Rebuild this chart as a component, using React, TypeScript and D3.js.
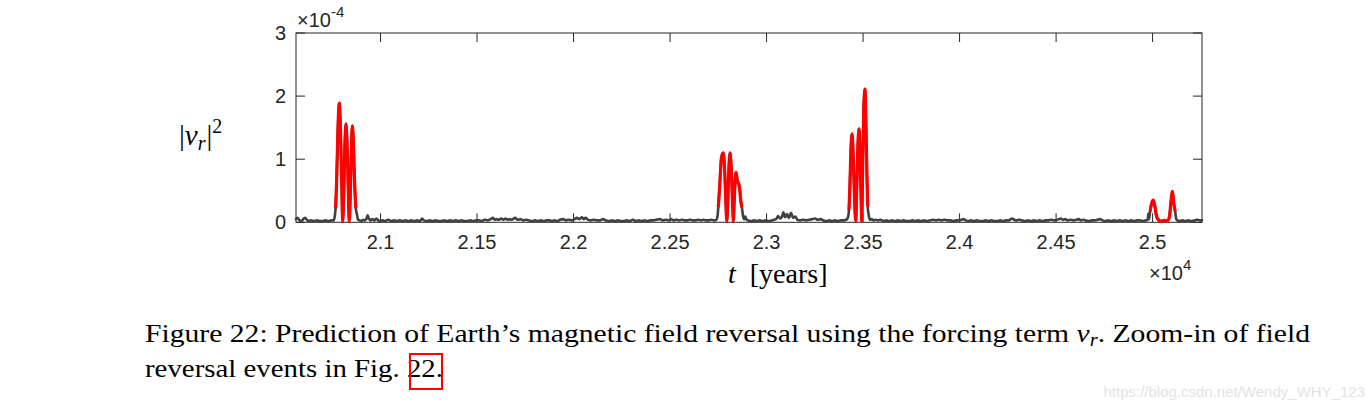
import React from "react";
import * as d3 from "d3";

type Pt = [number, number];

// t in units of 1e4 years, |v_r|^2 in units of 1e-4
const preEvent1: Pt[] = [
  [2.0562, 0.05], [2.057, 0.07], [2.0578, 0.04], [2.0586, 0.02], [2.0594, 0.03], [2.0602, 0.06],
  [2.061, 0.07], [2.0618, 0.04], [2.0626, 0.02], [2.064, 0.03], [2.0655, 0.02], [2.067, 0.03],
  [2.0685, 0.02], [2.07, 0.02], [2.0715, 0.03], [2.073, 0.02], [2.0745, 0.03], [2.0757, 0.03],
  [2.0762, 0.08],
];
const event1: Pt[] = [
  [2.0767, 0.22], [2.0773, 0.7], [2.0779, 1.45], [2.07865, 1.89], [2.0793, 1.4], [2.0799, 0.6],
  [2.0804, 0.02], [2.0809, 0.4], [2.0815, 1.2], [2.0821, 1.56], [2.0827, 1.2], [2.0833, 0.5],
  [2.0838, 0.02], [2.0843, 0.4], [2.0849, 1.15], [2.0854, 1.53], [2.086, 1.2], [2.0866, 0.6],
  [2.0872, 0.22],
];
const gap1: Pt[] = [
  [2.0878, 0.12], [2.0884, 0.04], [2.0892, 0.03], [2.09, 0.02], [2.091, 0.04], [2.0918, 0.03],
  [2.0926, 0.05], [2.0933, 0.11], [2.094, 0.06], [2.0948, 0.03], [2.0958, 0.05], [2.0968, 0.03],
  [2.0978, 0.06], [2.0988, 0.03], [2.0998, 0.02], [2.101, 0.03], [2.1025, 0.02], [2.104, 0.04],
  [2.1055, 0.02], [2.107, 0.03], [2.1085, 0.02], [2.11, 0.03], [2.1115, 0.02], [2.113, 0.03],
  [2.1145, 0.02], [2.116, 0.03], [2.1175, 0.02], [2.119, 0.03], [2.1205, 0.02], [2.1215, 0.06],
  [2.1225, 0.03], [2.124, 0.02], [2.1255, 0.03], [2.127, 0.02], [2.1285, 0.03], [2.13, 0.02],
  [2.1315, 0.02], [2.133, 0.03], [2.1345, 0.02], [2.136, 0.03], [2.1375, 0.02], [2.139, 0.03],
  [2.1405, 0.02], [2.142, 0.03], [2.1435, 0.02], [2.145, 0.02], [2.1465, 0.03], [2.148, 0.02],
  [2.1495, 0.03], [2.151, 0.03], [2.1525, 0.02], [2.154, 0.04], [2.1555, 0.03], [2.157, 0.05],
  [2.1583, 0.07], [2.1592, 0.04], [2.1602, 0.05], [2.1612, 0.04], [2.1625, 0.06], [2.1635, 0.04],
  [2.1648, 0.06], [2.166, 0.04], [2.167, 0.05], [2.168, 0.04], [2.1697, 0.07], [2.171, 0.04],
  [2.1725, 0.05], [2.174, 0.03], [2.1755, 0.04], [2.177, 0.03], [2.1785, 0.02], [2.18, 0.03],
  [2.1815, 0.02], [2.183, 0.03], [2.1845, 0.02], [2.186, 0.03], [2.1875, 0.03], [2.189, 0.02],
  [2.19, 0.03], [2.1915, 0.02], [2.193, 0.04], [2.1946, 0.05], [2.196, 0.03], [2.1975, 0.04],
  [2.199, 0.03], [2.2005, 0.05], [2.2018, 0.07], [2.203, 0.05], [2.2044, 0.08], [2.2052, 0.05],
  [2.2062, 0.07], [2.2075, 0.04], [2.209, 0.03], [2.2105, 0.04], [2.212, 0.03], [2.2135, 0.03],
  [2.2153, 0.05], [2.2168, 0.03], [2.2185, 0.02], [2.22, 0.03], [2.2215, 0.02], [2.223, 0.03],
  [2.2245, 0.02], [2.226, 0.02], [2.2275, 0.03], [2.229, 0.02], [2.2308, 0.04], [2.2322, 0.02],
  [2.2338, 0.03], [2.2352, 0.02], [2.2368, 0.03], [2.2383, 0.02], [2.2398, 0.03], [2.2413, 0.03],
  [2.2428, 0.04], [2.2448, 0.05], [2.2462, 0.03], [2.2478, 0.04], [2.2492, 0.03], [2.2505, 0.05],
  [2.2518, 0.03], [2.2532, 0.04], [2.2547, 0.03], [2.256, 0.04], [2.2575, 0.03], [2.259, 0.03],
  [2.2605, 0.04], [2.2618, 0.03], [2.2632, 0.03], [2.2648, 0.04], [2.266, 0.03], [2.2672, 0.04],
  [2.2685, 0.03], [2.27, 0.03], [2.2715, 0.04], [2.2728, 0.03], [2.274, 0.04], [2.2746, 0.1],
];
const event2: Pt[] = [
  [2.275, 0.24], [2.2758, 0.62], [2.2766, 1.02], [2.2776, 1.1], [2.2784, 0.75], [2.279, 0.25],
  [2.2794, 0.02], [2.2799, 0.3], [2.2804, 0.8], [2.2811, 1.1], [2.2818, 0.8], [2.2824, 0.3],
  [2.2828, 0.02], [2.2832, 0.3], [2.2837, 0.65], [2.2842, 0.79], [2.2848, 0.66], [2.2854, 0.62],
  [2.286, 0.55], [2.2866, 0.35], [2.2872, 0.24],
];
const gap2: Pt[] = [
  [2.2878, 0.1], [2.2884, 0.05], [2.2889, 0.09], [2.2897, 0.04], [2.2905, 0.03], [2.292, 0.02],
  [2.2935, 0.03], [2.295, 0.02], [2.2965, 0.03], [2.298, 0.02], [2.2995, 0.03], [2.301, 0.02],
  [2.3025, 0.03], [2.304, 0.04], [2.3052, 0.06], [2.306, 0.1], [2.307, 0.06], [2.308, 0.09],
  [2.3087, 0.16], [2.3096, 0.08], [2.3106, 0.13], [2.3116, 0.07], [2.3127, 0.15], [2.3137, 0.07],
  [2.3148, 0.09], [2.316, 0.04], [2.3175, 0.03], [2.319, 0.04], [2.3205, 0.03], [2.322, 0.04],
  [2.3237, 0.05], [2.3251, 0.06], [2.3265, 0.04], [2.328, 0.05], [2.3295, 0.03], [2.331, 0.02],
  [2.3325, 0.03], [2.334, 0.02], [2.3355, 0.03], [2.337, 0.02], [2.3385, 0.03], [2.34, 0.03],
  [2.3413, 0.04], [2.3422, 0.08],
];
const event3: Pt[] = [
  [2.3427, 0.2], [2.3432, 0.6], [2.3437, 1.15], [2.3443, 1.4], [2.3449, 1.05], [2.3455, 0.45],
  [2.3462, 0.02], [2.3467, 0.5], [2.3473, 1.2], [2.3479, 1.48], [2.3485, 1.0], [2.349, 0.35],
  [2.3493, 0.02], [2.3498, 0.9], [2.3504, 1.85], [2.351, 2.11], [2.3515, 1.55], [2.352, 0.75],
  [2.3524, 0.25],
];
const gap3: Pt[] = [
  [2.3529, 0.12], [2.3535, 0.04], [2.3545, 0.05], [2.3555, 0.03], [2.3565, 0.04], [2.3578, 0.03],
  [2.359, 0.04], [2.3605, 0.02], [2.362, 0.03], [2.3635, 0.02], [2.365, 0.03], [2.3665, 0.02],
  [2.368, 0.03], [2.3695, 0.02], [2.371, 0.03], [2.3725, 0.02], [2.374, 0.02], [2.3755, 0.03],
  [2.377, 0.02], [2.3785, 0.03], [2.38, 0.02], [2.3815, 0.03], [2.383, 0.02], [2.3845, 0.03],
  [2.3863, 0.04], [2.3878, 0.03], [2.3893, 0.04], [2.3908, 0.03], [2.3923, 0.04], [2.3938, 0.03],
  [2.3953, 0.03], [2.3968, 0.02], [2.3983, 0.03], [2.3998, 0.03], [2.401, 0.04], [2.402, 0.05],
  [2.4032, 0.03], [2.4045, 0.02], [2.406, 0.03], [2.4075, 0.02], [2.409, 0.03], [2.4105, 0.02],
  [2.412, 0.02], [2.4135, 0.03], [2.415, 0.02], [2.4165, 0.03], [2.418, 0.02], [2.4195, 0.02],
  [2.421, 0.03], [2.4225, 0.02], [2.424, 0.03], [2.4255, 0.03], [2.4265, 0.05], [2.4273, 0.06],
  [2.4282, 0.04], [2.4295, 0.03], [2.431, 0.04], [2.4325, 0.03], [2.434, 0.02], [2.4355, 0.03],
  [2.437, 0.02], [2.4385, 0.03], [2.44, 0.02], [2.4415, 0.03], [2.443, 0.02], [2.4445, 0.03],
  [2.446, 0.03], [2.4475, 0.04], [2.449, 0.03], [2.4505, 0.04], [2.4515, 0.05], [2.4525, 0.06],
  [2.4535, 0.04], [2.4548, 0.05], [2.456, 0.03], [2.4575, 0.04], [2.459, 0.03], [2.4605, 0.04],
  [2.4618, 0.05], [2.4628, 0.03], [2.464, 0.04], [2.4655, 0.03], [2.467, 0.02], [2.4685, 0.03],
  [2.47, 0.03], [2.4715, 0.04], [2.4728, 0.05], [2.474, 0.03], [2.4755, 0.02], [2.477, 0.03],
  [2.4785, 0.02], [2.48, 0.03], [2.4815, 0.02], [2.483, 0.03], [2.4845, 0.02], [2.486, 0.03],
  [2.4875, 0.02], [2.489, 0.03], [2.4905, 0.02], [2.492, 0.03], [2.4935, 0.03], [2.495, 0.02],
  [2.4965, 0.03], [2.4975, 0.04], [2.4978, 0.14], [2.4982, 0.05],
];
const event4: Pt[] = [
  [2.4987, 0.17], [2.4995, 0.3], [2.5004, 0.35], [2.5012, 0.25], [2.502, 0.1], [2.503, 0.04],
  [2.504, 0.02], [2.505, 0.02], [2.506, 0.03], [2.507, 0.02], [2.508, 0.03], [2.5088, 0.1],
  [2.5095, 0.32], [2.5103, 0.49], [2.511, 0.3], [2.5117, 0.17],
];
const tail: Pt[] = [
  [2.5122, 0.06], [2.5128, 0.03], [2.514, 0.02], [2.5155, 0.03], [2.517, 0.02], [2.5185, 0.03],
  [2.52, 0.02], [2.5215, 0.03], [2.523, 0.04], [2.5245, 0.03], [2.5256, 0.03],
];

const xTicks = [2.1, 2.15, 2.2, 2.25, 2.3, 2.35, 2.4, 2.45, 2.5];
const xTickLabels = ["2.1", "2.15", "2.2", "2.25", "2.3", "2.35", "2.4", "2.45", "2.5"];
const yTicks = [0, 1, 2, 3];
const yTickLabels = ["0", "1", "2", "3"];

export default function App() {
  const left = 296, right = 1202, top = 33, bottom = 222.3;
  const x = d3.scaleLinear().domain([2.0562, 2.5256]).range([left, right]);
  const y = d3.scaleLinear().domain([0, 3]).range([bottom, top]);
  const line = d3
    .line<Pt>()
    .x((d) => x(d[0]))
    .y((d) => y(d[1]))
    .curve(d3.curveMonotoneX);
  const full: Pt[] = [...preEvent1, ...event1, ...gap1, ...event2, ...gap2, ...event3, ...gap3, ...event4, ...tail];
  const events = [event1, event2, event3, event4];
  const axisColor = "#262626";
  const tickLen = 9;
  const sans = "'Liberation Sans', Arial, sans-serif";
  const serif = "'Liberation Serif', 'Times New Roman', serif";
  const fs = 20;

  return (
    <svg
      width={1370}
      height={411}
      style={{ position: "absolute", left: 0, top: 0, background: "#fff" }}
    >
      <rect x={0} y={0} width={1370} height={411} fill="#fff" />
      {/* axes box */}
      <rect x={left} y={top} width={right - left} height={bottom - top} fill="none" stroke={axisColor} strokeWidth={1} />
      {xTicks.map((t) => (
        <g key={"xt" + t}>
          <line x1={x(t)} x2={x(t)} y1={bottom} y2={bottom - tickLen} stroke={axisColor} />
          <line x1={x(t)} x2={x(t)} y1={top} y2={top + tickLen} stroke={axisColor} />
        </g>
      ))}
      {yTicks.map((v) => (
        <g key={"yt" + v}>
          <line x1={left} x2={left + tickLen} y1={y(v)} y2={y(v)} stroke={axisColor} />
          <line x1={right} x2={right - tickLen} y1={y(v)} y2={y(v)} stroke={axisColor} />
        </g>
      ))}
      {/* data */}
      <path d={line(full) || ""} fill="none" stroke="#404040" strokeWidth={2.6} strokeLinejoin="round" strokeLinecap="round" />
      {events.map((ev, i) => (
        <path key={"ev" + i} d={line(ev) || ""} fill="none" stroke="#ff0000" strokeWidth={3.2} strokeLinejoin="round" strokeLinecap="butt" />
      ))}
      {/* tick labels */}
      {xTicks.map((t, i) => (
        <text key={"xl" + t} x={x(t)} y={248.5} textAnchor="middle" fontFamily={sans} fontSize={fs} fill={axisColor}>
          {xTickLabels[i]}
        </text>
      ))}
      {yTicks.map((v, i) => (
        <text key={"yl" + v} x={286} y={y(v) + 7} textAnchor="end" fontFamily={sans} fontSize={fs} fill={axisColor}>
          {yTickLabels[i]}
        </text>
      ))}
      {/* exponent labels */}
      <text x={297} y={27} fontFamily={sans} fontSize={fs} fill={axisColor}>
        ×10<tspan dy={-10} fontSize={15}>-4</tspan>
      </text>
      <text x={1149} y={280} fontFamily={sans} fontSize={fs} fill={axisColor}>
        ×10<tspan dy={-10} fontSize={15}>4</tspan>
      </text>
      {/* x label */}
      <text x={728} y={283} fontFamily={serif} fontSize={28} fill="#000">
        <tspan fontStyle="italic">t</tspan>
        <tspan dx={14}>[years]</tspan>
      </text>
      {/* y label */}
      <text x={179} y={145} fontFamily={serif} fontSize={29} fill="#000">
        |<tspan fontStyle="italic">v</tspan>
        <tspan fontStyle="italic" fontSize={20} dy={5}>r</tspan>
        <tspan dy={-5} dx={1}>|</tspan>
        <tspan fontSize={20} dy={-12}>2</tspan>
      </text>
      {/* caption */}
      <text x={145} y={342} fontFamily={serif} fontSize={26} fill="#000" textLength={1165} lengthAdjust="spacingAndGlyphs">
        Figure 22: Prediction of Earth’s magnetic field reversal using the forcing term <tspan fontStyle="italic">v</tspan>
        <tspan fontStyle="italic" fontSize={18} dy={4}>r</tspan>
        <tspan dy={-4}>. Zoom-in of field</tspan>
      </text>
      <text x={145} y={377} fontFamily={serif} fontSize={26} fill="#000" textLength={298} lengthAdjust="spacingAndGlyphs">
        reversal events in Fig. 22.
      </text>
      <rect x={410} y={354} width={32} height={35} fill="none" stroke="#ff0000" strokeWidth={2} />
      {/* watermark */}
      <text x={1365} y={397} textAnchor="end" fontFamily={sans} fontSize={15} fill="#e3e3e3">
        https://blog.csdn.net/Wendy_WHY_123
      </text>
    </svg>
  );
}
